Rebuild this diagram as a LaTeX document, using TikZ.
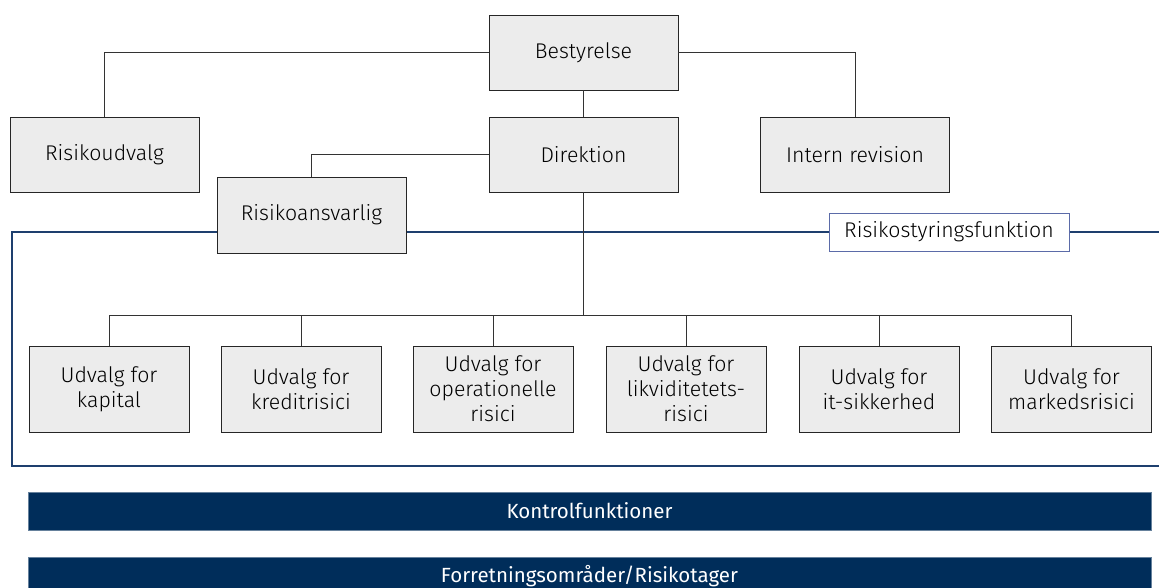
\documentclass[tikz,border=0pt]{standalone}
\usepackage{fontspec}
\setmainfont{Fira Sans}[UprightFont=* Light]
\newfontfamily\barfont{Fira Sans}
\definecolor{boxgray}{HTML}{ECECEC}
\definecolor{navy}{HTML}{002D5A}
\definecolor{frameblue}{HTML}{1E3F6E}
\definecolor{labelblue}{HTML}{5B6BA8}
\definecolor{linegray}{HTML}{333333}
\begin{document}
\begin{tikzpicture}[x=1pt,y=-1pt,
  topbox/.style={draw=black!85, fill=boxgray, line width=0.8pt, minimum width=189pt, minimum height=75pt, inner sep=0pt, align=center, font=\fontsize{21.3}{25}\selectfont},
  subbox/.style={draw=black!85, fill=boxgray, line width=0.8pt, minimum width=160pt, minimum height=86pt, inner sep=0pt, align=center, font=\fontsize{21.3}{25}\selectfont},
  framelabel/.style={draw=labelblue, fill=white, line width=0.8pt, minimum width=240pt, minimum height=38pt, inner sep=0pt, font=\fontsize{21.3}{25}\selectfont},
  bar/.style={fill=navy, draw=navy!60!white, line width=0.6pt, minimum width=1123pt, minimum height=38pt, inner sep=0pt, text=white, font=\barfont\fontsize{20.5}{24}\selectfont},
  conn/.style={draw=linegray, line width=0.8pt}
]
\useasboundingbox (0,0) rectangle (1159,588);
% frame
\draw[frameblue, line width=1.3pt] (1175,232) -- (12,232) -- (12,466) -- (1175,466);

\node[topbox] (bes) at (583.5,52.5) {Bestyrelse};
\node[topbox] (risu) at (104.5,154.5) {Risikoudvalg};
\node[topbox] (dir) at (583.5,154.5) {Direktion};
\node[topbox] (intern) at (855,154.5) {Intern revision};
\node[topbox, minimum height=76pt] (risa) at (311.5,215) {Risikoansvarlig};
\node[framelabel] (rsf) at (949,232) {Risikostyringsfunktion};

\node[subbox] (u1) at (109,389) {Udvalg for\\kapital};
\node[subbox] (u2) at (301,389) {Udvalg for\\kreditrisici};
\node[subbox] (u3) at (493,389) {Udvalg for\\operationelle\\risici};
\node[subbox] (u4) at (686,389) {Udvalg for\\likviditetets-\\risici};
\node[subbox] (u5) at (879,389) {Udvalg for\\it-sikkerhed};
\node[subbox] (u6) at (1071.5,389) {Udvalg for\\markedsrisici};

\node[bar] (kf) at (589.5,511) {Kontrolfunktioner};
\node[bar] (fr) at (589.5,576) {Forretningsområder/Risikotager};

\coordinate (bus) at (583.5,315);
\draw[conn] (bes.west) -| (risu.north);
\draw[conn] (bes.east) -| (intern.north);
\draw[conn] (bes.south) -- (dir.north);
\draw[conn] (dir.west) -| (risa.north);
\draw[conn] (dir.south) -- (bus);
\draw[conn] (u1.north |- bus) -- (u6.north |- bus);
\foreach \u in {u1,u2,u3,u4,u5,u6} {
  \draw[conn] (\u.north |- bus) -- (\u.north);
}
\end{tikzpicture}
\end{document}
